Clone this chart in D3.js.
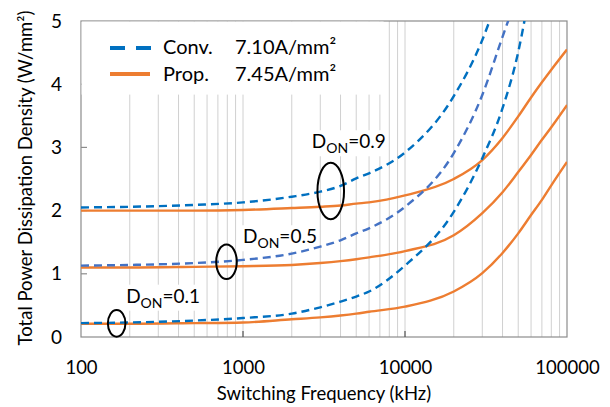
<!DOCTYPE html>
<html>
<head>
<meta charset="utf-8">
<script src="https://cdn.jsdelivr.net/npm/d3@7"></script>
<style>
  body { margin: 0; background: #fff; }
  text { font-family: Lato, "Open Sans", sans-serif; fill: #000; }
</style>
</head>
<body>
<div id="chart"></div>
<script>
// Data (kHz, W/mm^2):
var freqs = [100, 200, 500, 1000, 2000, 3000, 4000, 5000, 6000, 10000, 20000, 30000, 40000, 50000, 60000, 70000, 80000, 100000];

// Conv. 7.10A/mm2 (dashed blue) - runs off the top, gets clipped
var convD01 = [0.22, 0.23, 0.26, 0.30, 0.37, 0.47, 0.56, 0.64, 0.72, 1.13, 1.98, 2.83, 3.62, 4.51, 5.59];
var convD05 = [1.13, 1.14, 1.17, 1.22, 1.32, 1.43, 1.53, 1.64, 1.72, 2.06, 2.91, 3.83, 4.75, 5.45];
var convD09 = [2.05, 2.06, 2.09, 2.13, 2.22, 2.30, 2.39, 2.51, 2.59, 2.92, 3.81, 4.70, 5.60];

// Prop. 7.45A/mm2 (solid orange)
var propD01 = [0.21, 0.21, 0.22, 0.23, 0.28, 0.31, 0.34, 0.37, 0.40, 0.48, 0.72, 1.01, 1.33, 1.64, 1.93, 2.17, 2.40, 2.77];
var propD05 = [1.10, 1.10, 1.11, 1.12, 1.14, 1.17, 1.20, 1.23, 1.26, 1.36, 1.61, 1.96, 2.29, 2.61, 2.88, 3.12, 3.32, 3.67];
var propD09 = [2.00, 2.00, 2.00, 2.01, 2.04, 2.06, 2.08, 2.11, 2.13, 2.24, 2.50, 2.80, 3.15, 3.49, 3.79, 4.03, 4.23, 4.55];

var xTicks = [100, 1000, 10000, 100000];
var yTicks = [0, 1, 2, 3, 4, 5];

// D_ON annotations: ellipse centre (kHz, value) and label anchor (kHz, value)
var dutyLabels = ["0.1", "0.5", "0.9"];
var ringFreq = [166, 791, 3480];
var ringVal = [0.216, 1.19, 2.31];
var labelFreq = [190, 1000, 2660];
var labelVal = [0.543, 1.483, 2.986];

var visualize = function() {
  // Boilerplate:
  var margin = { top: 21, right: 43, bottom: 70, left: 81 },
    width = 610 - margin.left - margin.right,
    height = 407 - margin.top - margin.bottom;

  d3.select("#chart").html("");

  var root = d3.select("#chart")
    .append("svg")
    .attr("width", 610)
    .attr("height", 407);

  var svg = root.append("g")
    .attr("transform", "translate(" + margin.left + "," + margin.top + ")");

  // Scale:
  var x = d3.scaleLog().domain([100, 100000]).range([0, width]);
  var y = d3.scaleLinear().domain([0, 5]).range([height, 0]);

  // Minor + major vertical gridlines
  var grid = [];
  [100, 1000, 10000].forEach(function(d) {
    for (var k = 2; k <= 10; k++) grid.push(d * k);
  });
  grid = grid.filter(function(d) { return d < 100000; });

  svg.append("g")
    .selectAll("line")
    .data(grid)
    .enter()
    .append("line")
    .attr("x1", function(d) { return x(d); })
    .attr("x2", function(d) { return x(d); })
    .attr("y1", 0)
    .attr("y2", height)
    .attr("stroke", "#d0d0d0")
    .attr("stroke-width", 1);

  // Frame
  svg.append("rect")
    .attr("x", 0).attr("y", 0)
    .attr("width", width).attr("height", height)
    .attr("fill", "none")
    .attr("stroke", "#8c8c8c")
    .attr("stroke-width", 1.2);

  // Axis:
  var xAxis = d3.axisBottom(x).tickValues(xTicks).tickFormat(d3.format("d")).tickSize(0).tickPadding(24);
  var yAxis = d3.axisLeft(y).tickValues(yTicks).tickFormat(d3.format("d")).tickSize(0).tickPadding(19);

  var gx = svg.append("g").attr("transform", "translate(0," + height + ")").call(xAxis);
  var gy = svg.append("g").call(yAxis);
  gx.select(".domain").remove();
  gy.select(".domain").remove();
  gx.selectAll("text").style("font-size", "18.5px");
  gy.selectAll("text").style("font-size", "19px");

  // inward tick marks
  svg.append("g").selectAll("line")
    .data([1000, 10000])
    .enter().append("line")
    .attr("x1", function(d) { return x(d); })
    .attr("x2", function(d) { return x(d); })
    .attr("y1", height).attr("y2", height - 6)
    .attr("stroke", "#555").attr("stroke-width", 1.2);
  svg.append("g").selectAll("line")
    .data([1, 2, 3, 4])
    .enter().append("line")
    .attr("x1", 0).attr("x2", 6)
    .attr("y1", function(d) { return y(d); })
    .attr("y2", function(d) { return y(d); })
    .attr("stroke", "#8c8c8c").attr("stroke-width", 1.2);

  // Axis titles
  root.append("text")
    .attr("x", margin.left + width / 2)
    .attr("y", 400)
    .attr("text-anchor", "middle")
    .style("font-size", "18.5px")
    .text("Switching Frequency (kHz)");
  root.append("text")
    .attr("transform", "translate(32," + (margin.top + height / 2 - 1) + ") rotate(-90)")
    .attr("text-anchor", "middle")
    .style("font-size", "18.5px")
    .text("Total Power Dissipation Density (W/mm²)");

  // Legend (white box hides the grid)
  svg.append("rect")
    .attr("x", 0.6).attr("y", 0.6)
    .attr("width", 302).attr("height", 73)
    .attr("fill", "#fff");
  var leg = svg.append("g").attr("transform", "translate(" + (-margin.left) + "," + (-margin.top) + ")");
  leg.append("line")
    .attr("x1", 110).attr("x2", 152).attr("y1", 48).attr("y2", 48)
    .attr("stroke", "#0070c0").attr("stroke-width", 4)
    .attr("stroke-dasharray", "15,11");
  leg.append("line")
    .attr("x1", 110).attr("x2", 150).attr("y1", 74).attr("y2", 74)
    .attr("stroke", "#ed7d31").attr("stroke-width", 4);
  leg.append("text").attr("x", 163).attr("y", 54).style("font-size", "20px").text("Conv.");
  leg.append("text").attr("x", 235).attr("y", 54).style("font-size", "20px").text("7.10A/mm²");
  leg.append("text").attr("x", 163).attr("y", 81).style("font-size", "20px").text("Prop.");
  leg.append("text").attr("x", 235).attr("y", 81).style("font-size", "20px").text("7.45A/mm²");

  // D_ON labels with white backing
  var labels = svg.append("g");
  dutyLabels.forEach(function(d, i) {
    var t = labels.append("text")
      .attr("x", x(labelFreq[i]))
      .attr("y", y(labelVal[i]))
      .style("font-size", "19px");
    t.append("tspan").text("D");
    t.append("tspan").attr("dy", 5).style("font-size", "14px").text("ON");
    t.append("tspan").attr("dy", -5).text("=" + d);
    var b = t.node().getBBox();
    labels.insert("rect", "text")
      .attr("x", b.x - 2).attr("y", b.y + 1)
      .attr("width", b.width + 4).attr("height", b.height - 1)
      .attr("fill", "#fff");
  });

  // Visual Encoding:
  svg.append("clipPath").attr("id", "plotclip")
    .append("rect").attr("width", width).attr("height", height);

  var line = d3.line()
    .x(function(d) { return x(d[0]); })
    .y(function(d) { return y(d[1]); })
    .curve(d3.curveMonotoneX);

  var series = [
    { v: propD01, color: "#ed7d31", dash: null },
    { v: propD05, color: "#ed7d31", dash: null },
    { v: propD09, color: "#ed7d31", dash: null },
    { v: convD01, color: "#0070c0", dash: "8,5" },
    { v: convD05, color: "#4472c4", dash: "8,5" },
    { v: convD09, color: "#0070c0", dash: "8,5" }
  ];

  svg.append("g")
    .attr("clip-path", "url(#plotclip)")
    .selectAll("path")
    .data(series)
    .enter()
    .append("path")
    .attr("d", function(s) {
      return line(s.v.map(function(v, i) { return [freqs[i], v]; }));
    })
    .attr("fill", "none")
    .attr("stroke", function(s) { return s.color; })
    .attr("stroke-width", 2.4)
    .attr("stroke-dasharray", function(s) { return s.dash; });

  // Ellipses
  var ringSize = [[8.8, 13.3], [10.3, 17.2], [13.3, 28.3]];
  svg.append("g")
    .selectAll("ellipse")
    .data(ringFreq)
    .enter()
    .append("ellipse")
    .attr("cx", function(d) { return x(d); })
    .attr("cy", function(d, i) { return y(ringVal[i]); })
    .attr("rx", function(d, i) { return ringSize[i][0]; })
    .attr("ry", function(d, i) { return ringSize[i][1]; })
    .attr("fill", "none")
    .attr("stroke", "#000")
    .attr("stroke-width", 2);
};

visualize();
</script>
</body>
</html>
